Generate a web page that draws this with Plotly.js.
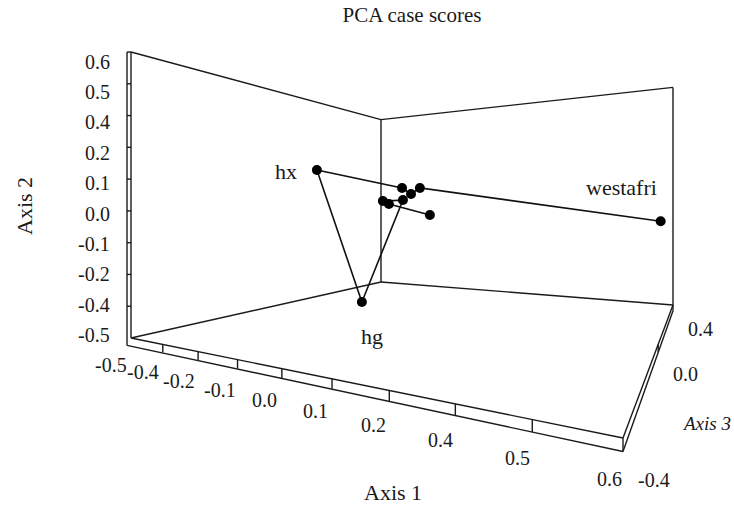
<!DOCTYPE html>
<html><head><meta charset="utf-8">
<script src="https://cdn.plot.ly/plotly-3.0.1.min.js"></script>
<style>html,body{margin:0;padding:0;background:#fff}#chart{width:734px;height:508px}</style>
</head><body><div id="chart"></div>
<script>
// ---------------- data: PCA case scores (listed in the order the connecting line visits them) ----------------
const caseNames = ['westafri', '', '', '', 'hx', 'hg', '', '', '', ''];
const axis1 = [0.60, -0.010, -0.039, -0.069, -0.387, -0.017, -0.066, -0.135, -0.114, 0.022];
const axis2 = [-0.06, 0.087, 0.060, 0.089, 0.195, -0.364, 0.033, 0.030, 0.016, -0.036];
const axis3 = [0.05, 0.00, 0.00, 0.00, 0.00, -0.20, 0.00, 0.00, 0.00, 0.00];
const axis1Range = [-0.5, 0.6];
const axis2Range = [-0.5, 0.6];
const axis3Range = [-0.4, 0.4];
const axis1TickLabels = ['-0.5', '-0.4', '-0.2', '-0.1', '0.0', '0.1', '0.2', '0.4', '0.5', '0.6'];
const axis2TickLabels = ['-0.5', '-0.4', '-0.2', '-0.1', '0.0', '0.1', '0.2', '0.4', '0.5', '0.6'];
const axis3TickLabels = ['-0.4', '0.0', '0.4'];
const chartTitle = 'PCA case scores';
const axisTitles = ['Axis 1', 'Axis 2', 'Axis 3'];

// ---------------- perspective view of the 3-D box (layout only) ----------------
// floor corners in page pixels: (s,t) = (0,0), (1,0), (1,1), (0,1)
const floor = [[131, 338], [623, 438], [673, 305], [381, 282]];
const wallH = 286;
const [x0, y0] = floor[0], [x1, y1] = floor[1], [x2, y2] = floor[2], [x3, y3] = floor[3];
const sX = x0 - x1 + x2 - x3, sY = y0 - y1 + y2 - y3;
const dx1 = x1 - x2, dx2 = x3 - x2, dy1 = y1 - y2, dy2 = y3 - y2;
const den = dx1 * dy2 - dx2 * dy1;
const G = (sX * dy2 - dx2 * sY) / den, Hc = (dx1 * sY - sX * dy1) / den;
const A = x1 - x0 + G * x1, B = x3 - x0 + Hc * x3, C = x0;
const D = y1 - y0 + G * y1, E = y3 - y0 + Hc * y3, F = y0;
function wOf(s, t) { return G * s + Hc * t + 1; }
function projN(s, t, r) {
  const w = wOf(s, t);
  return [(A * s + B * t + C) / w, (D * s + E * t + F - wallH * r) / w];
}
function projData(a1, a2, a3) {
  const s = (a1 - axis1Range[0]) / (axis1Range[1] - axis1Range[0]);
  const r = (a2 - axis2Range[0]) / (axis2Range[1] - axis2Range[0]);
  const t = (a3 - axis3Range[0]) / (axis3Range[1] - axis3Range[0]);
  return projN(s, t, r);
}

// ---------------- frame lines ----------------
const fx = [], fy = [];
function seg(p, q) { fx.push(p[0], q[0], null); fy.push(p[1], q[1], null); }
function off(p, dx, dy) { return [p[0] + dx, p[1] + dy]; }
const dl = 0.026, barW = 4;
seg(projN(0, 0, 1), projN(0, 1, 1));          // left wall top
seg(projN(0, 1, 0), projN(0, 1, 1));          // back corner
seg(projN(0, 1, 1), projN(1, 1, 1));          // back wall top
seg(projN(1, 1, 0), projN(1, 1, 1));          // right edge
seg(projN(0, 0, 0), projN(0, 1, 0));          // floor left
seg(projN(0, 1, 0), projN(1, 1, 0));          // floor back
// axis 2 bar (thin upright slab)
seg(projN(0, 0, 0), projN(0, 0, 1));
seg(off(projN(0, 0, -dl), -barW, 0), off(projN(0, 0, 1), -barW, 0));
seg(off(projN(0, 0, 1), -barW, 0), projN(0, 0, 1));
// axis 1 slab
seg(projN(0, 0, 0), projN(1, 0, 0));
seg(off(projN(0, 0, -dl), -barW, 0), projN(1, 0, -dl));
seg(projN(1, 0, 0), projN(1, 0, -dl));
// axis 3 slab
seg(projN(1, 0, 0), projN(1, 1, 0));
seg(projN(1, 0, -dl), projN(1, 1, -dl));
seg(projN(1, 1, 0), projN(1, 1, -dl));
const n1 = axis1TickLabels.length - 1, n2 = axis2TickLabels.length - 1, n3 = axis3TickLabels.length - 1;
for (let k = 1; k < n1; k++) seg(projN(k / n1, 0, 0), projN(k / n1, 0, -dl));
for (let k = 1; k < n2; k++) seg(projN(0, 0, k / n2), off(projN(0, 0, k / n2), -barW, 0));
for (let k = 1; k < n3; k++) seg(projN(1, k / n3, 0), projN(1, k / n3, -dl));

// ---------------- data marks ----------------
const pts = axis1.map((v, i) => projData(v, axis2[i], axis3[i]));
const traces = [
  { type: 'scatter', mode: 'lines', x: fx, y: fy, line: { color: '#1a1a1a', width: 1.4 }, hoverinfo: 'skip' },
  { type: 'scatter', mode: 'lines+markers', x: pts.map(p => p[0]), y: pts.map(p => p[1]),
    line: { color: '#111', width: 1.6 }, marker: { color: '#000', size: 10 }, text: caseNames, hoverinfo: 'text' }
];

// ---------------- text ----------------
const serif = 'Liberation Serif';
const ann = [];
function txt(x, y, text, size, xanchor, extra) {
  ann.push(Object.assign({ x, y, xref: 'x', yref: 'y', text, showarrow: false, xanchor: xanchor || 'center', yanchor: 'middle',
    font: { family: serif, size, color: '#1a1a1a' } }, extra || {}));
}
axis1TickLabels.forEach((lab, k) => {
  const s = k / n1, p = projN(s, 0, 0), w = wOf(s, 0);
  txt(p[0] - 20 + 6 * s, p[1] + 10 + 17 / w, lab, 20, 'center');
});
axis2TickLabels.forEach((lab, k) => {
  const p = projN(0, 0, 0.0105 + 0.9555 * k / n2);
  txt(p[0] - 19, p[1], lab, 20, 'right');
});
axis3TickLabels.forEach((lab, k) => {
  const t = k / n3, p = projN(1, t, 0), w = wOf(1, t);
  txt(p[0] + 13, p[1] + 11 + 17 / w, lab, 20, 'left');
});
const labelOffsets = { westafri: [-2, -34, 'right'], hx: [-18, 2, 'right'], hg: [10, 34, 'center'] };
caseNames.forEach((n, i) => {
  if (!n) return;
  const o = labelOffsets[n];
  txt(pts[i][0] + o[0], pts[i][1] + o[1], n, 22, o[2]);
});
txt(393, 492, axisTitles[0], 22, 'center');
txt(24, 206, axisTitles[1], 22, 'center', { textangle: -90 });
txt(706, 423, '<i>' + axisTitles[2] + '</i>', 19, 'center');

const layout = {
  width: 734, height: 508,
  margin: { l: 0, r: 0, t: 0, b: 0 },
  paper_bgcolor: '#fff', plot_bgcolor: '#fff',
  showlegend: false, hovermode: false,
  title: { text: chartTitle, font: { family: serif, size: 21, color: '#1a1a1a' },
    x: 412 / 734, xanchor: 'center', xref: 'paper', y: 1 - 15 / 508, yanchor: 'middle', yref: 'container' },
  xaxis: { range: [0, 734], visible: false, fixedrange: true },
  yaxis: { range: [508, 0], visible: false, fixedrange: true },
  annotations: ann
};
Plotly.newPlot('chart', traces, layout, { staticPlot: true, displayModeBar: false });
</script>
</body></html>
